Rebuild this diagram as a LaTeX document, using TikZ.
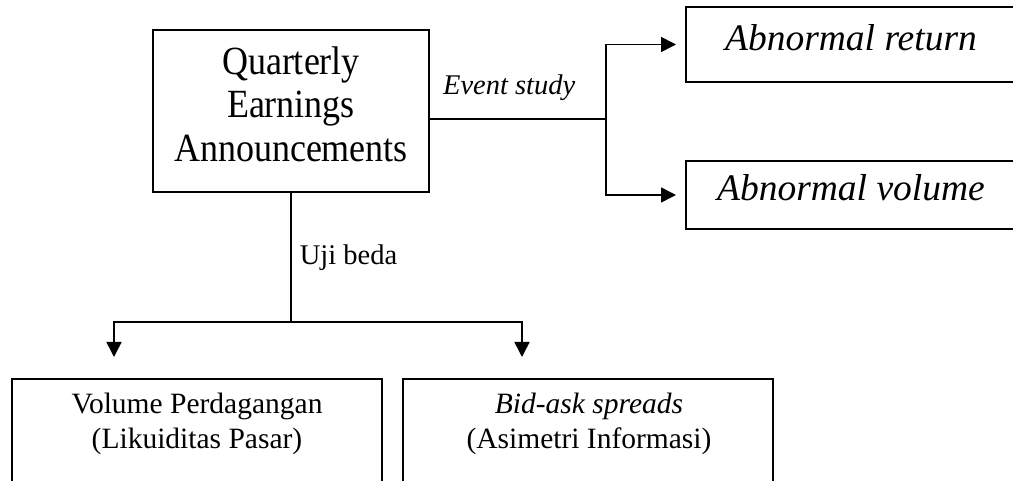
\documentclass[tikz,border=0pt]{standalone}
\usepackage{fontspec}
\setmainfont{Liberation Serif}
\newfontfamily\tallserif[FakeStretch=0.9]{Liberation Serif}
\usetikzlibrary{positioning,arrows.meta}

\begin{document}
\begin{tikzpicture}[
  x=1pt, y=-1pt,
  box/.style={draw, rectangle, line width=2pt, align=center, inner sep=0pt},
  mainbox/.style={box, minimum width=276pt, minimum height=162pt, font=\tallserif\fontsize{40}{43.5}\selectfont},
  outbox/.style={box, minimum width=330pt, text height=26pt, text depth=14pt, font=\fontsize{37.5}{43}\selectfont\itshape},
  lowbox/.style={box, minimum width=370pt, minimum height=160pt, anchor=north},
  lowtext/.style={align=center, inner sep=0pt, anchor=north, font=\fontsize{29.5}{35}\selectfont},
  line/.style={line width=1.6pt},
  arr/.style={line, -{Triangle[length=15pt, width=15pt]}},
  lbl/.style={font=\fontsize{28.5}{34}\selectfont, inner sep=3pt},
]
  \clip (0,0) rectangle (1013,481);

  \node[mainbox] (qea) at (291,111) {Quarterly\\Earnings\\Announcements\rule[-14pt]{0pt}{14pt}};
  \node[outbox, minimum height=75pt] (ret) at (851,44.5) {Abnormal return};
  \node[outbox, minimum height=68pt] (vlm) at (851,195) {Abnormal volume};

  \node[lowbox] (likuid) at (197,378) {};
  \node[lowtext] (likuidtext) at (197,393) {Volume Perdagangan\\(Likuiditas Pasar)};
  \node[lowbox] (spread) at (588,378) {};
  \node[lowtext] (spreadtext) at (589,393) {\textit{Bid-ask spreads}\\(Asimetri Informasi)};

  \coordinate (split) at (606,119);
  \coordinate (fork) at (291,322);
  \coordinate (dropL) at (114,357);
  \coordinate (dropR) at (522,357);

  % event study branch
  \draw[line] (qea.east |- split) -- node[lbl, above=15pt, pos=0.45] (evt) {\textit{Event study}} (split);
  \draw[line] (split |- ret.west) -- (split |- vlm.west);
  \draw[arr, shorten >=9pt] (split) |- (ret.west);
  \draw[arr, shorten >=9pt] (split) |- (vlm.west);

  % uji beda branch
  \draw[line] (qea.south) -- node[lbl, right=5pt, midway] (uji) {Uji beda} (fork);
  \draw[arr] (fork) -| (dropL);
  \draw[arr] (fork) -| (dropR);
\end{tikzpicture}
\end{document}
